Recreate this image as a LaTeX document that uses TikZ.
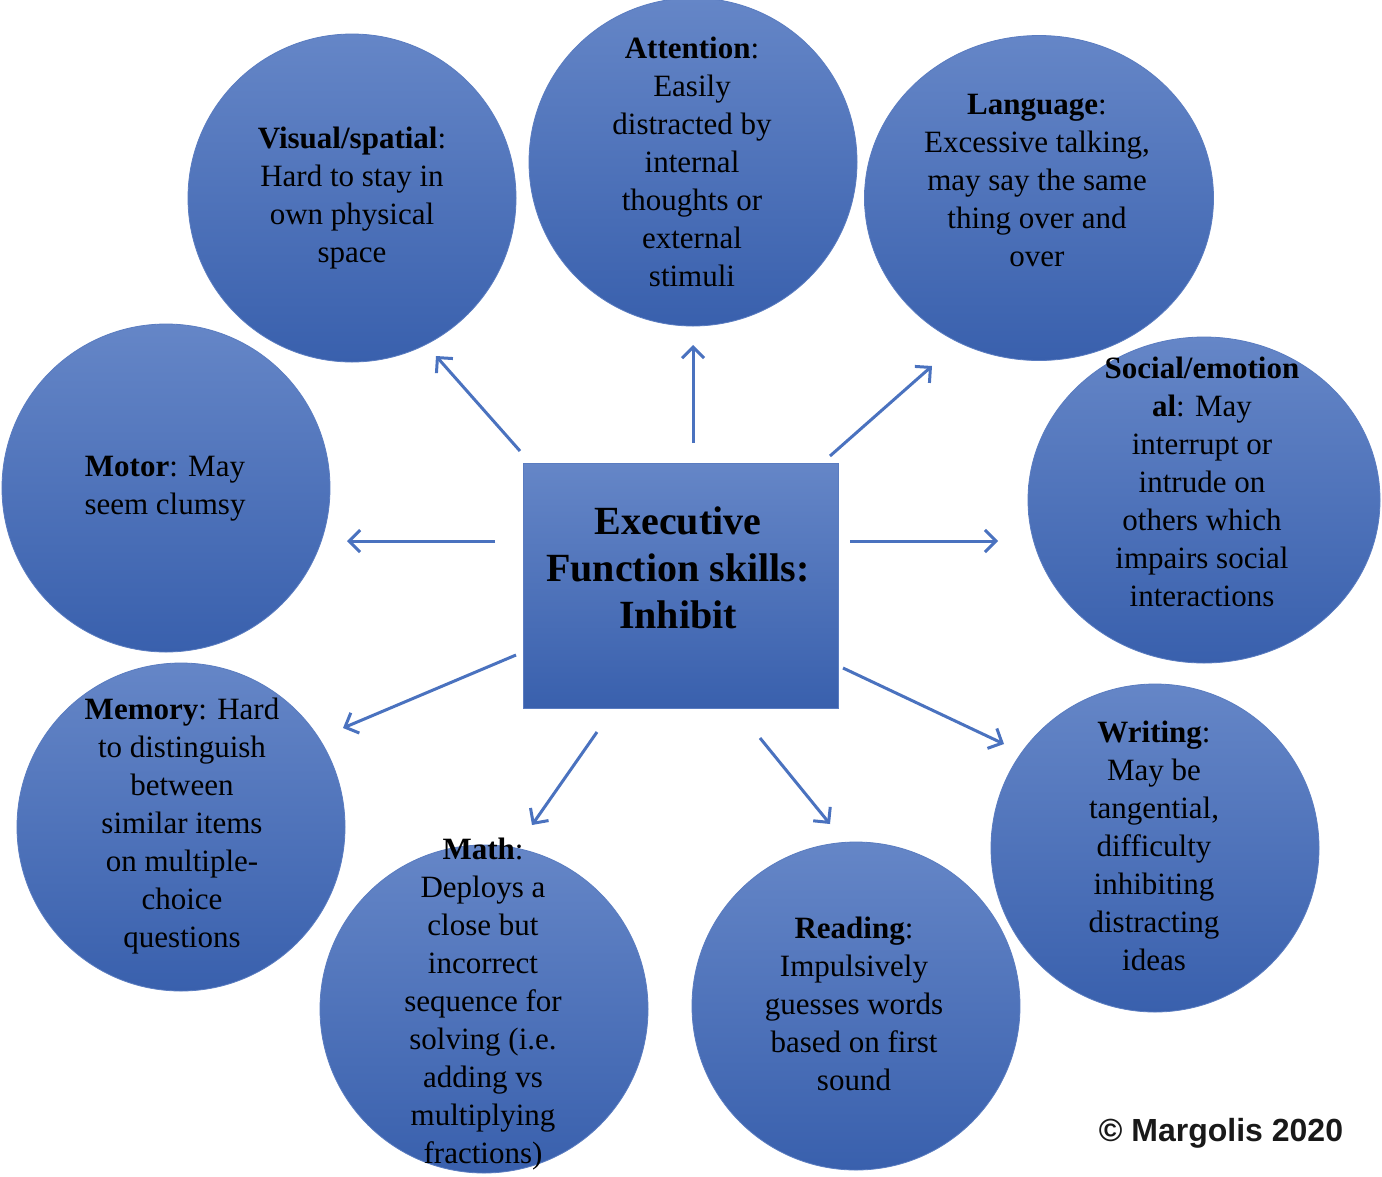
\documentclass[tikz,border=0pt]{standalone}
\usepackage{fontspec}
\setmainfont{Liberation Serif}
\newfontfamily\cpyfont{Liberation Sans}
\usetikzlibrary{shapes.geometric,arrows.meta}
\definecolor{bubtop}{HTML}{6586C7}
\definecolor{bubbot}{HTML}{3960AD}
\definecolor{bubedge}{HTML}{5A7CC0}
\definecolor{arrcol}{HTML}{4A72BF}
\tikzset{
  bub/.style={ellipse, draw=bubedge, line width=0.8bp, top color=bubtop, bottom color=bubbot,
    inner sep=0pt, minimum width=328bp, minimum height=328bp},
  hub/.style={rectangle, draw=bubedge, line width=0.8bp, top color=bubtop, bottom color=bubbot,
    inner sep=0pt, minimum width=315bp, minimum height=245bp},
  txt/.style={align=center, inner sep=0pt, text=black, font=\fontsize{31bp}{38bp}\selectfont},
  hubtxt/.style={align=center, inner sep=0pt, text=black, font=\fontsize{40bp}{47bp}\selectfont\bfseries},
  arr/.style={draw=arrcol, line width=3bp, -{Straight Barb[length=11bp,width=22bp,line width=3bp]}}
}
\begin{document}
\begin{tikzpicture}[x=1bp,y=-1bp]
\useasboundingbox[fill=white] (0,0) rectangle (1382,1176);
% bubbles
\node[bub] (vis) at (352,198) {};
\node[bub] (att) at (693,162) {};
\node[bub, minimum width=349bp, minimum height=325bp] (lan) at (1039,198) {};
\node[bub, minimum width=352bp, minimum height=326bp] (soc) at (1204,500) {};
\node[bub] (mot) at (166,488) {};
\node[bub] (mem) at (181,827) {};
\node[bub] (mat) at (484,1009) {};
\node[bub] (rea) at (856,1006) {};
\node[bub] (wri) at (1155,848) {};
\node[hub] (ef) at (680.5,585.5) {};
% texts
\node[txt] (vis-t) at (352,198) {\textbf{Visual/spatial}:\\Hard to stay in\\own physical\\space};
\node[txt] (att-t) at (692,162) {\textbf{Attention}:\\Easily\\distracted by\\internal\\thoughts or\\external\\stimuli};
\node[txt] (lan-t) at (1037,180) {\textbf{Language}:\\Excessive talking,\\may say the same\\thing over and\\over};
\node[txt] (soc-t) at (1202,482) {\textbf{Social/emotion}\\\textbf{al}: May\\interrupt or\\intrude on\\others which\\impairs social\\interactions};
\node[txt] (mot-t) at (165,489) {\textbf{Motor}: May\\seem clumsy};
\node[txt] (mem-t) at (182,826) {\textbf{Memory}: Hard\\to distinguish\\between\\similar items\\on multiple-\\choice\\questions};
\node[txt] (mat-t) at (483,1004) {\textbf{Math}:\\Deploys a\\close but\\incorrect\\sequence for\\solving (i.e.\\adding vs\\multiplying\\fractions)};
\node[txt] (rea-t) at (854,1004) {\textbf{Reading}:\\Impulsively\\guesses words\\based on first\\sound};
\node[txt] (wri-t) at (1154,846) {\textbf{Writing}:\\May be\\tangential,\\difficulty\\inhibiting\\distracting\\ideas};
\node[hubtxt] (ef-t) at (678,568) {Executive\\Function skills:\\Inhibit};
% arrow ends
\coordinate (s1) at (520,451); \coordinate (e1) at (436,356);
\coordinate (s2) at (693,443); \coordinate (e2) at (693,345);
\coordinate (s3) at (830,456); \coordinate (e3) at (932,366);
\coordinate (s4) at (850,541); \coordinate (e4) at (998,541);
\coordinate (s5) at (495,541); \coordinate (e5) at (347,541);
\coordinate (s6) at (516,655); \coordinate (e6) at (343,728);
\coordinate (s7) at (597,732); \coordinate (e7) at (532,825);
\coordinate (s8) at (760,738); \coordinate (e8) at (830,824);
\coordinate (s9) at (843,668); \coordinate (e9) at (1004,744);
\foreach \i in {1,...,9} {\draw[arr] (s\i) -- (e\i);}
% copyright
\node[inner sep=0pt, font=\fontsize{32bp}{38bp}\selectfont\cpyfont\bfseries, text=black!90] (cpy) at (1221,1133) {© Margolis 2020};
\end{tikzpicture}
\end{document}
